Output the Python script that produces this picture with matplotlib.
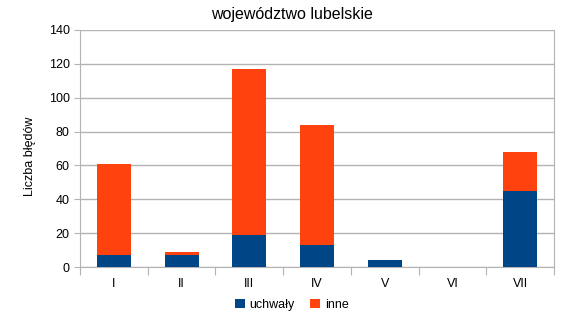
import numpy as np
import matplotlib.pyplot as plt

plt.rcParams['font.family'] = ['Liberation Sans', 'DejaVu Sans']

categories = ['I', 'II', 'III', 'IV', 'V', 'VI', 'VII']
uchwaly = [7, 7, 19, 13, 4, 0, 45]
inne = [54, 2, 98, 71, 0, 0, 23]

fig = plt.figure(figsize=(5.83, 3.22), dpi=100)
ax = fig.add_axes([80 / 583, 1 - 267 / 322, 474 / 583, 237 / 322])

x = np.arange(len(categories))
ax.bar(x, uchwaly, width=0.5, color='#004586', label='uchwały', zorder=3)
ax.bar(x, inne, width=0.5, bottom=uchwaly, color='#ff420e', label='inne', zorder=3)

ax.set_xlim(-0.5, len(categories) - 0.5)
ax.set_ylim(0, 140)
ax.set_yticks(range(0, 141, 20))
ax.yaxis.grid(True, color='#b3b3b3', linewidth=1, zorder=0)

# category ticks sit on the boundaries, labels in the middle
ax.set_xticks(np.arange(-0.5, len(categories), 1))
ax.set_xticklabels([])
ax.set_xticks(x, minor=True)
ax.set_xticklabels(categories, minor=True)
ax.tick_params(axis='x', which='major', length=6, color='#b3b3b3')
ax.tick_params(axis='x', which='minor', length=0, pad=8, labelsize=9)
ax.tick_params(axis='y', length=4, color='#b3b3b3', labelsize=9)

for s in ax.spines.values():
    s.set_color('#b3b3b3')
ax.spines['top'].set_visible(False)

# title centred on the whole figure
fig.text(0.5, 1 - 14 / 322, 'województwo lubelskie', fontsize=11.5,
         ha='center', va='center')
ax.set_ylabel('Liczba błędów', fontsize=9)
ax.yaxis.set_label_coords(-0.093, 0.468)

fig.legend(loc='lower center', bbox_to_anchor=(0.5, 0.0), ncol=2, frameon=False,
           fontsize=9, handlelength=0.8, handleheight=0.8, columnspacing=1.2,
           handletextpad=0.4)

plt.savefig('out.png', dpi=100)
